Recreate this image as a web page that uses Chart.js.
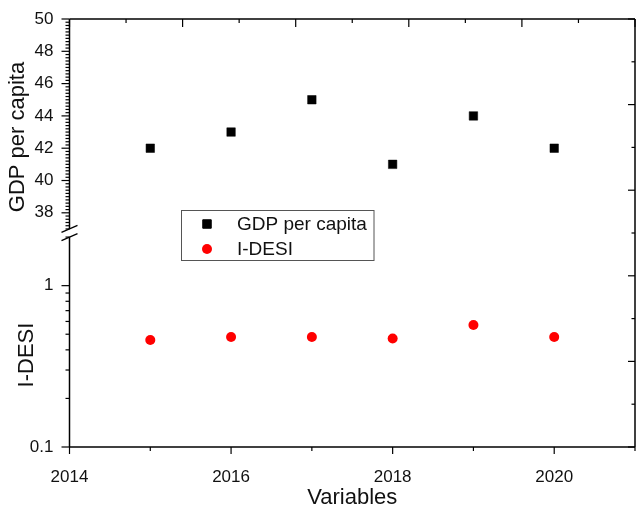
<!DOCTYPE html>
<html>
<head>
<meta charset="utf-8">
<script src="https://cdn.jsdelivr.net/npm/chart.js@4.4.0/dist/chart.umd.min.js"></script>
<style>
  html, body { margin: 0; padding: 0; background: #fff; }
  #wrap { width: 636px; height: 510px; }
</style>
</head>
<body>
<div id="wrap"><canvas id="chart" width="636" height="510"></canvas></div>
<script>
// values
const years = [2015, 2016, 2017, 2018, 2019, 2020];
const gdpPerCapita = [42, 43, 45, 41, 44, 42];
const iDesi = [0.46, 0.48, 0.48, 0.47, 0.57, 0.48];
const yearLabels = [2014, 2016, 2018, 2020];
const gdpLabels = [38, 40, 42, 44, 46, 48, 50];
const desiLabels = [0.1, 1];

const FONT = '"Liberation Sans", Arial, sans-serif';
const INK = '#111';
Chart.defaults.font.family = FONT;

function line(ctx, x1, y1, x2, y2) {
    ctx.beginPath();
    ctx.moveTo(x1, y1);
    ctx.lineTo(x2, y2);
    ctx.stroke();
}

// keep tick label paddings from pushing the plot area around
function noPad(s) {
    s.paddingTop = 0;
    s.paddingBottom = 0;
    s.paddingLeft = 0;
    s.paddingRight = 0;
}

// frame, tick marks, axis break, y titles and the legend box
const framePlugin = {
    id: 'frame',
    afterDraw(chart) {
        const ctx = chart.ctx;
        const a = chart.chartArea;
        const sx = chart.scales.x;
        const sg = chart.scales.yGdp;
        const sd = chart.scales.yDesi;
        const st = chart.scales.xTop;
        const sr = chart.scales.yRight;
        const L = a.left, R = a.right, T = a.top, B = a.bottom;

        ctx.save();
        ctx.strokeStyle = '#000';
        ctx.lineWidth = 1.5;
        line(ctx, L, T, R, T);
        line(ctx, R, T, R, B);
        line(ctx, L, B, R, B);

        const brkTop = sg.getPixelForValue(37);
        const brkBot = sd.getPixelForValue(2);
        line(ctx, L, T, L, brkTop);
        line(ctx, L, brkBot, L, B);
        ctx.lineWidth = 1.3;
        [brkTop, brkBot].forEach(y => line(ctx, L - 8, y + 3.5, L + 8, y - 3.5));

        ctx.lineWidth = 1.2;
        // bottom axis ticks (outward)
        for (let yr = 2014; yr <= 2021; yr++) {
            const x = sx.getPixelForValue(yr);
            line(ctx, x, B, x, B + (yr % 2 === 0 ? 7 : 4));
        }
        // top and right axis ticks (inward)
        for (let i = 0; i <= 10; i++) {
            const x = st.getPixelForValue(i);
            line(ctx, x, T, x, T + (i % 2 === 0 ? 8 : 4));
            const y = sr.getPixelForValue(i);
            line(ctx, R, y, R - (i % 2 === 0 ? 7 : 3.5), y);
        }
        // left GDP ticks, minor every 0.2
        for (let i = 185; i <= 250; i++) {
            const y = sg.getPixelForValue(i / 5);
            line(ctx, L, y, L - (i % 10 === 0 ? 8 : 4), y);
        }
        // left log ticks
        [0.1, 1].forEach(dec => {
            for (let k = 1; k <= 9; k++) {
                const v = dec * k;
                if (v > 2.0001) break;
                const y = sd.getPixelForValue(v);
                line(ctx, L, y, L - (k === 1 ? 8 : 4), y);
            }
        });

        // y axis titles
        ctx.fillStyle = INK;
        ctx.font = '22px ' + FONT;
        ctx.textAlign = 'center';
        ctx.textBaseline = 'middle';
        [['GDP per capita', 18, 137], ['I-DESI', 27, 355]].forEach(([txt, x, y]) => {
            ctx.save();
            ctx.translate(x, y);
            ctx.rotate(-Math.PI / 2);
            ctx.fillText(txt, 0, 0);
            ctx.restore();
        });

        // legend
        ctx.strokeStyle = '#555';
        ctx.lineWidth = 1;
        ctx.strokeRect(181.5, 210.5, 192.5, 50);
        ctx.font = '19px ' + FONT;
        ctx.textAlign = 'left';
        chart.data.datasets.forEach((ds, i) => {
            const y = 224 + i * 25;
            ctx.fillStyle = ds.backgroundColor;
            ctx.strokeStyle = ds.borderColor;
            Chart.helpers.drawPoint(ctx, {
                pointStyle: ds.pointStyle,
                radius: ds.pointRadius,
                borderWidth: ds.borderWidth,
                rotation: 0
            }, 207, y);
            ctx.fillStyle = INK;
            ctx.fillText(ds.label, 237, y + 1);
        });
        ctx.restore();
    }
};

new Chart(document.getElementById('chart'), {
    type: 'scatter',
    data: {
        datasets: [{
            label: 'GDP per capita',
            data: years.map((x, i) => ({ x: x, y: gdpPerCapita[i] })),
            yAxisID: 'yGdp',
            pointStyle: 'rect',
            pointRadius: 6,
            borderWidth: 0.5,
            backgroundColor: '#000',
            borderColor: '#000'
        }, {
            label: 'I-DESI',
            data: years.map((x, i) => ({ x: x, y: iDesi[i] })),
            yAxisID: 'yDesi',
            pointStyle: 'circle',
            pointRadius: 5,
            borderWidth: 0,
            backgroundColor: '#ff0000',
            borderColor: '#ff0000'
        }]
    },
    options: {
        responsive: false,
        animation: false,
        devicePixelRatio: 1,
        layout: { autoPadding: false, padding: { top: 19, right: 1, left: 0, bottom: 0 } },
        plugins: {
            legend: { display: false },
            tooltip: { enabled: false }
        },
        scales: {
            x: {
                type: 'linear',
                position: 'bottom',
                min: 2014,
                max: 2021,
                afterBuildTicks: s => { s.ticks = yearLabels.map(v => ({ value: v })); },
                afterFit: s => { s.height = 63; noPad(s); },
                grid: { display: false, drawTicks: false },
                border: { display: false },
                ticks: {
                    autoSkip: false,
                    maxRotation: 0,
                    padding: 20,
                    color: INK,
                    font: { size: 17 },
                    callback: v => String(v)
                },
                title: {
                    display: true,
                    text: 'Variables',
                    color: INK,
                    font: { size: 22, lineHeight: 1.1 },
                    padding: { top: 0, bottom: 0 }
                }
            },
            yDesi: {
                type: 'logarithmic',
                position: 'left',
                stack: 'left',
                stackWeight: 1,
                min: 0.1,
                max: 2.12,
                afterBuildTicks: s => { s.ticks = desiLabels.map(v => ({ value: v })); },
                afterFit: s => { s.width = 69.5; noPad(s); },
                grid: { display: false, drawTicks: false },
                border: { display: false },
                ticks: {
                    autoSkip: false,
                    padding: 16,
                    color: INK,
                    font: { size: 17 },
                    callback: v => String(v)
                }
            },
            yGdp: {
                type: 'linear',
                position: 'left',
                stack: 'left',
                stackWeight: 1,
                min: 36.75,
                max: 50,
                afterBuildTicks: s => { s.ticks = gdpLabels.map(v => ({ value: v })); },
                afterFit: s => { s.width = 69.5; noPad(s); },
                grid: { display: false, drawTicks: false },
                border: { display: false },
                ticks: {
                    autoSkip: false,
                    padding: 16,
                    color: INK,
                    font: { size: 17 },
                    callback: v => String(v)
                }
            },
            xTop: {
                type: 'linear', position: 'top', min: 0, max: 10, display: false,
                afterFit: s => { noPad(s); }
            },
            yRight: {
                type: 'linear', position: 'right', min: 0, max: 10, display: false,
                afterFit: s => { noPad(s); }
            }
        }
    },
    plugins: [framePlugin]
});
</script>
</body>
</html>
